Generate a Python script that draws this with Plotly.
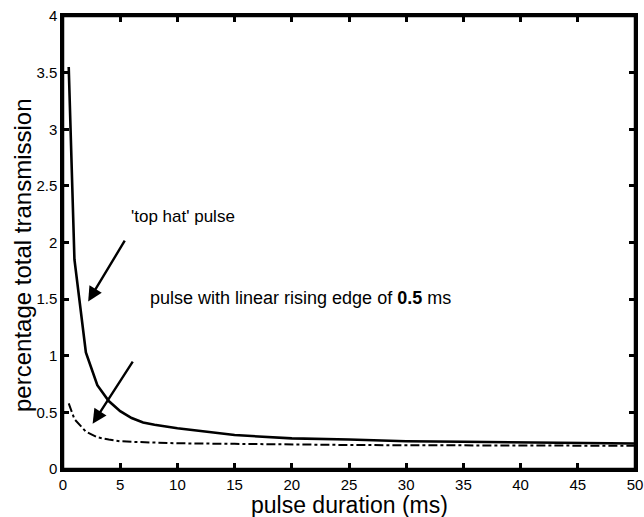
import plotly.graph_objects as go

# pulse duration (ms)
x_top = [0.5, 1, 2, 3, 4, 5, 6, 7, 8, 10, 15, 20, 25, 30, 35, 40, 45, 50]
y_top = [3.55, 1.85, 1.03, 0.74, 0.60, 0.51, 0.45, 0.41, 0.39, 0.36, 0.30, 0.27, 0.26, 0.245, 0.24, 0.235, 0.23, 0.225]

x_lin = [0.5, 1, 2, 3, 4, 5, 6, 8, 10, 15, 20, 25, 30, 35, 40, 45, 50]
y_lin = [0.58, 0.44, 0.33, 0.28, 0.26, 0.245, 0.24, 0.232, 0.227, 0.222, 0.215, 0.212, 0.21, 0.21, 0.208, 0.207, 0.205]

x_ticks = [0, 5, 10, 15, 20, 25, 30, 35, 40, 45, 50]
y_ticks = [0, 0.5, 1, 1.5, 2, 2.5, 3, 3.5, 4]
y_tick_text = ["0", "0.5", "1", "1.5", "2", "2.5", "3", "3.5", "4"]

fig = go.Figure()
fig.add_trace(go.Scatter(x=x_top, y=y_top, mode="lines",
                         line=dict(color="black", width=2.6), showlegend=False))
fig.add_trace(go.Scatter(x=x_lin, y=y_lin, mode="lines",
                         line=dict(color="black", width=2, dash="dashdot"), showlegend=False))

font = "Liberation Sans, Arial, sans-serif"

# labels with arrows pointing at the curves
fig.add_annotation(x=2.2, y=1.48, ax=5.66, ay=2.06, xref="x", yref="y", axref="x", ayref="y",
                   text=" ", showarrow=True, arrowhead=2, arrowsize=1.2, arrowwidth=2.4, arrowcolor="black")
fig.add_annotation(x=2.59, y=0.40, ax=6.36, ay=0.99, xref="x", yref="y", axref="x", ayref="y",
                   text=" ", showarrow=True, arrowhead=2, arrowsize=1.2, arrowwidth=2.4, arrowcolor="black")
fig.add_annotation(x=10.45, y=2.23, xref="x", yref="y", text="'top hat' pulse", showarrow=False,
                   font=dict(family=font, size=17, color="black"))
fig.add_annotation(x=20.8, y=1.51, xref="x", yref="y",
                   text="pulse with linear rising edge of <b>0.5</b> ms", showarrow=False,
                   font=dict(family=font, size=18, color="black"))
# axis titles
fig.add_annotation(x=0.5, y=-0.08, xref="paper", yref="paper", xanchor="center", yanchor="middle",
                   text="pulse duration (ms)", showarrow=False,
                   font=dict(family=font, size=23, color="black"))
fig.add_annotation(x=-0.072, y=0.472, xref="paper", yref="paper", xanchor="center", yanchor="middle",
                   textangle=-90, text="percentage total transmission", showarrow=False,
                   font=dict(family=font, size=24, color="black"))

# frame (paper refs so it is not clipped to the plot area)
fig.add_shape(type="rect", xref="paper", yref="paper", x0=0, x1=1, y0=0, y1=1,
              line=dict(color="black", width=2.5), layer="above")

axis_common = dict(showline=True, linecolor="black", linewidth=2.5, mirror="allticks",
                   ticks="inside", ticklen=6, tickwidth=2.5, tickcolor="black",
                   showgrid=False, zeroline=False, automargin=False,
                   tickfont=dict(family=font, size=15, color="black"))

fig.update_xaxes(range=[0, 50], tickvals=x_ticks, ticktext=[str(v) for v in x_ticks], **axis_common)
fig.update_yaxes(range=[0, 4], tickvals=y_ticks, ticktext=y_tick_text, **axis_common)

fig.update_layout(width=644, height=517, margin=dict(l=63, r=9, t=16, b=48),
                  plot_bgcolor="white", paper_bgcolor="white", font=dict(family=font))

fig.write_html("out.html")
